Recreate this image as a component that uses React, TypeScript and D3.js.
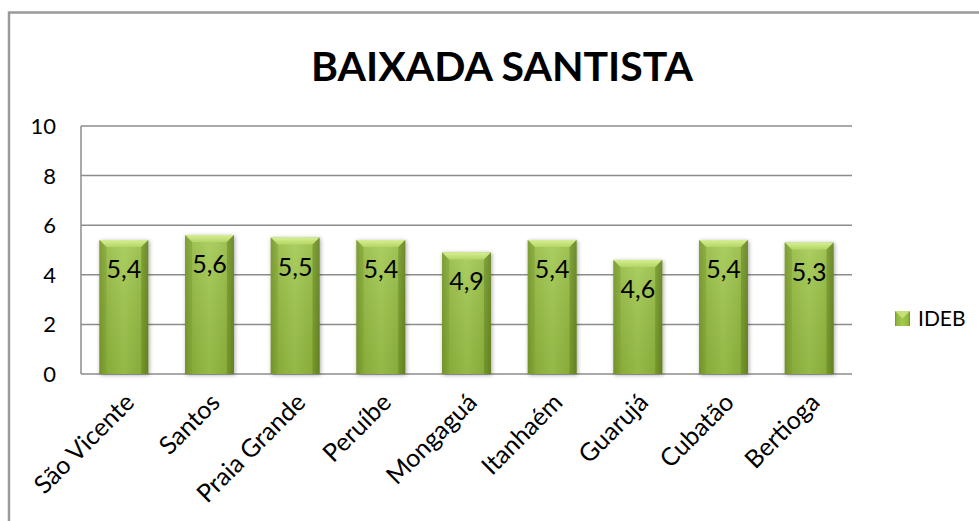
import React from "react";
import * as d3 from "d3";

const categories = ["São Vicente", "Santos", "Praia Grande", "Peruíbe", "Mongaguá", "Itanhaém", "Guarujá", "Cubatão", "Bertioga"];
const ideb = [5.4, 5.6, 5.5, 5.4, 4.9, 5.4, 4.6, 5.4, 5.3];
const yTicks = [0, 2, 4, 6, 8, 10];
const seriesName = "IDEB";
const title = "BAIXADA SANTISTA";

const W = 979, H = 521;
const m = { left: 81, right: 852, top: 126, bottom: 374 };
const font = "Lato, 'Open Sans', sans-serif";

export default function App() {
  const x = d3.scaleBand<string>().domain(categories).range([m.left, m.right]).paddingInner(0.43).paddingOuter(0.215);
  const y = d3.scaleLinear().domain([0, 10]).range([m.bottom, m.top]);
  const fmt = (v: number) => d3.format(".1f")(v).replace(".", ",");
  const bw = x.bandwidth();
  const bev = 7;
  return (
    <svg width={W} height={H} style={{ position: "absolute", left: 0, top: 0 }}>
      <defs>
        <linearGradient id="body" x1="0" x2="1" y1="0" y2="0">
          <stop offset="0" stopColor="#739329" />
          <stop offset="0.12" stopColor="#92b93e" />
          <stop offset="0.5" stopColor="#a2c94e" />
          <stop offset="0.88" stopColor="#92b93e" />
          <stop offset="1" stopColor="#6d8d26" />
        </linearGradient>
        <linearGradient id="top" x1="0" x2="0" y1="0" y2="1">
          <stop offset="0" stopColor="#d6ee92" />
          <stop offset="1" stopColor="#b4d663" />
        </linearGradient>
        <linearGradient id="vshade" x1="0" x2="0" y1="0" y2="1">
          <stop offset="0" stopColor="#ffffff" stopOpacity="0.12" />
          <stop offset="1" stopColor="#000000" stopOpacity="0.08" />
        </linearGradient>
        <filter id="sh" x="-20%" y="-10%" width="140%" height="120%">
          <feGaussianBlur in="SourceAlpha" stdDeviation="2" />
          <feOffset dx="1" dy="1" />
          <feComponentTransfer><feFuncA type="linear" slope="0.35" /></feComponentTransfer>
          <feMerge><feMergeNode /><feMergeNode in="SourceGraphic" /></feMerge>
        </filter>
      </defs>
      <rect x={0} y={0} width={W} height={H} fill="#fff" />
      <rect x={9} y={12.5} width={W + 20} height={H + 20} fill="none" stroke="#9a9a9a" strokeWidth={2.5} />
      <text x={502} y={81} textAnchor="middle" fontFamily={font} fontWeight="bold" fontSize={41} fill="#000">{title}</text>
      {yTicks.map(t => (
        <g key={t}>
          <line x1={m.left} x2={m.right} y1={y(t)} y2={y(t)} stroke="#8c8c8c" strokeWidth={1.5} />
          <text x={56} y={y(t) + 8} textAnchor="end" fontFamily={font} fontSize={22} fill="#000">{t}</text>
        </g>
      ))}
      <line x1={m.left} x2={m.left} y1={m.top} y2={m.bottom} stroke="#8c8c8c" strokeWidth={1.5} />
      {categories.map((c, i) => {
        const x0 = x(c)!;
        const yt = y(ideb[i]);
        const yb = y(0);
        return (
          <g key={c}>
            <g filter="url(#sh)">
              <rect x={x0} y={yt} width={bw} height={yb - yt} fill="url(#body)" />
              <rect x={x0} y={yt} width={bw} height={yb - yt} fill="url(#vshade)" />
              <polygon points={`${x0},${yt} ${x0 + bw},${yt} ${x0 + bw - bev},${yt + bev} ${x0 + bev},${yt + bev}`} fill="url(#top)" />
              <polygon points={`${x0},${yt} ${x0 + bev},${yt + bev} ${x0 + bev},${yb} ${x0},${yb}`} fill="#7a9c2e" opacity={0.5} />
              <polygon points={`${x0 + bw},${yt} ${x0 + bw - bev},${yt + bev} ${x0 + bw - bev},${yb} ${x0 + bw},${yb}`} fill="#5f7d1e" opacity={0.5} />
            </g>
            <text x={x0 + bw / 2} y={yt + 38} textAnchor="middle" fontFamily={font} fontSize={25} fill="#000">{fmt(ideb[i])}</text>
            <text transform={`translate(${x0 + bw / 2 + 12},${yb + 30}) rotate(-45)`} textAnchor="end" fontFamily={font} fontSize={25} fill="#000">{c}</text>
          </g>
        );
      })}
      <g transform="translate(895,311)">
        <rect x={0} y={0} width={15} height={15} fill="url(#body)" />
        <polygon points="0,0 15,0 7.5,7.5" fill="#c5e07a" />
        <text x={23} y={15} fontFamily={font} fontSize={21} fill="#000">{seriesName}</text>
      </g>
    </svg>
  );
}
